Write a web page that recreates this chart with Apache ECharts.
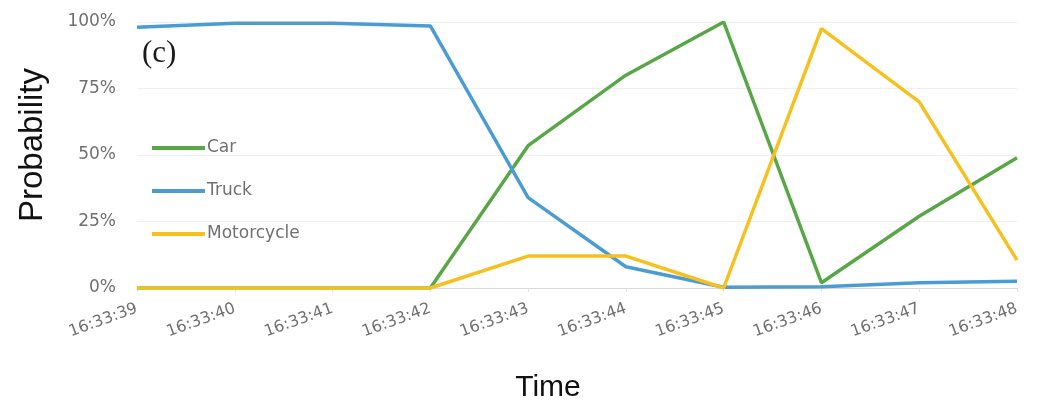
<!DOCTYPE html>
<html>
<head>
<meta charset="utf-8">
<script src="https://cdn.jsdelivr.net/npm/echarts@6/dist/echarts.min.js"></script>
<style>
  html, body { margin: 0; padding: 0; background: #fff; }
  #chart { width: 1037px; height: 404px; }
</style>
</head>
<body>
<div id="chart"></div>
<script>
// Time stamps along the horizontal axis
const times = ['16:33:39', '16:33:40', '16:33:41', '16:33:42', '16:33:43',
               '16:33:44', '16:33:45', '16:33:46', '16:33:47', '16:33:48'];

// Class probabilities (%) per time stamp
const carProb        = [0, 0, 0, 0, 53.5, 80, 100, 2, 27, 49];
const truckProb      = [98, 99.5, 99.5, 98.5, 34, 8, 0.3, 0.5, 2, 2.5];
const motorcycleProb = [0, 0, 0, 0, 12, 12, 0, 97.5, 70, 10.5];

const yTicks = [0, 25, 50, 75, 100];

const chart = echarts.init(document.getElementById('chart'));

const lineSeries = (name, color, data) => ({
  name: name,
  type: 'line',
  data: data,
  symbol: 'none',
  lineStyle: { width: 3.5, color: color },
  itemStyle: { color: color },
  emphasis: { disabled: true }
});

chart.setOption({
  animation: false,
  title: {
    text: '(c)',
    left: 137,
    top: 33,
    textStyle: { fontFamily: 'Liberation Serif', fontSize: 31, fontWeight: 'normal', color: '#1a1a1a' }
  },
  legend: {
    orient: 'vertical',
    left: 147,
    top: 134,
    itemWidth: 53,
    itemHeight: 4,
    itemGap: 25,
    icon: 'rect',
    textStyle: { fontFamily: 'DejaVu Sans', fontSize: 17, lineHeight: 18, color: '#707070', padding: [0, 0, 0, -3] },
    data: ['Car', 'Truck', 'Motorcycle']
  },
  grid: { left: 137, right: 20, top: 22, bottom: 116, containLabel: false, outerBoundsMode: 'none' },
  xAxis: {
    type: 'category',
    data: times,
    boundaryGap: false,
    name: 'Time',
    nameLocation: 'middle',
    nameGap: 85,
    nameTextStyle: { fontFamily: 'Liberation Sans', fontSize: 30, color: '#111', padding: [0, 58, 0, 0] },
    axisLine: { lineStyle: { color: '#d9d9d9', width: 1 } },
    axisTick: { show: true, alignWithLabel: true, length: 4, lineStyle: { color: '#e3e3e3' } },
    axisLabel: {
      rotate: 20,
      margin: 20,
      fontFamily: 'DejaVu Sans',
      fontSize: 16,
      color: '#707070',
      interval: 0
    },
    splitLine: { show: false }
  },
  yAxis: {
    type: 'value',
    min: 0,
    max: 100,
    interval: 25,
    name: 'Probability',
    nameLocation: 'middle',
    nameGap: 88,
    nameTextStyle: { fontFamily: 'Liberation Sans', fontSize: 33, color: '#111', padding: [0, 0, 0, 20] },
    axisLine: { show: false },
    axisTick: { show: false },
    axisLabel: {
      margin: 21,
      fontFamily: 'DejaVu Sans',
      fontSize: 17,
      color: '#707070',
      formatter: (v) => yTicks.includes(v) ? v + '%' : ''
    },
    splitLine: { lineStyle: { color: '#efefef', width: 1 } }
  },
  series: [
    lineSeries('Car', '#57A746', carProb),
    lineSeries('Truck', '#4B9CD3', truckProb),
    lineSeries('Motorcycle', '#F6C11F', motorcycleProb)
  ]
});
</script>
</body>
</html>
